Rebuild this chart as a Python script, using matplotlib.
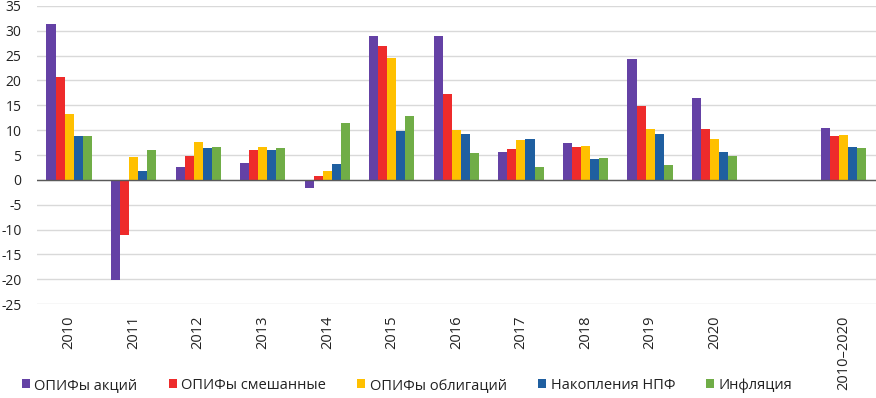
import matplotlib
matplotlib.use("Agg")
import matplotlib.pyplot as plt
import numpy as np
from matplotlib.patches import Patch

categories = ["2010", "2011", "2012", "2013", "2014", "2015", "2016", "2017",
              "2018", "2019", "2020", "", "2010\u20132020"]
series_names = ["ОПИФы акций", "ОПИФы смешанные", "ОПИФы облигаций",
                "Накопления НПФ", "Инфляция"]
opif_stocks = [31.4, -20.2, 2.5, 3.3, -1.6, 29.0, 29.0, 5.6, 7.4, 24.4, 16.5, np.nan, 10.4]
opif_mixed = [20.8, -11.1, 4.8, 6.1, 0.8, 27.0, 17.3, 6.2, 6.6, 14.8, 10.3, np.nan, 8.9]
opif_bonds = [13.3, 4.6, 7.7, 6.7, 1.7, 24.5, 10.0, 8.0, 6.9, 10.2, 8.3, np.nan, 9.1]
npf_savings = [8.9, 1.8, 6.5, 6.0, 3.2, 9.9, 9.2, 8.3, 4.1, 9.3, 5.7, np.nan, 6.6]
inflation = [8.8, 6.1, 6.6, 6.5, 11.4, 12.9, 5.4, 2.5, 4.3, 3.0, 4.9, np.nan, 6.5]
y_ticks = [-25, -20, -15, -10, -5, 0, 5, 10, 15, 20, 25, 30, 35]

colors = ["#6441A5", "#EE2B2B", "#FFC000", "#1F5FA0", "#70AD47"]
series = [opif_stocks, opif_mixed, opif_bonds, npf_savings, inflation]

plt.rcParams['font.family'] = ['Open Sans', 'DejaVu Sans']

fig = plt.figure(figsize=(8.76, 3.98), dpi=100)
ax = fig.add_axes([0.042, 0.236, 0.958, 0.749])

x = np.arange(len(categories))
w = 0.14
for i, (vals, c) in enumerate(zip(series, colors)):
    ax.bar(x + (i - 2) * w, vals, width=w, color=c, zorder=3, linewidth=0)

ax.set_xlim(-0.5, len(categories) - 0.5)
ax.set_ylim(-25, 35)
ax.set_yticks(y_ticks)
ax.set_yticklabels([str(t) for t in y_ticks], fontsize=10, color="#222222")
ax.yaxis.grid(True, color="#D9D9D9", linewidth=1.0, zorder=0)
ax.axhline(0, color="#595959", linewidth=1.0, zorder=4)
ax.set_xticks(x)
ax.set_xticklabels(categories, rotation=90, fontsize=10.5, color="#222222", va="top")
ax.tick_params(axis="both", length=0)
ax.tick_params(axis="y", pad=11)
ax.tick_params(axis="x", pad=8)
for s in ax.spines.values():
    s.set_visible(False)

handles = [Patch(facecolor=c, edgecolor="none") for c in colors]
fig.legend(handles, series_names, loc="center left", bbox_to_anchor=(0.01, 0.032),
           ncol=5, frameon=False, prop={"size": 10.5},
           handlelength=0.55, handleheight=0.55,
           handletextpad=0.3, columnspacing=2.15, labelcolor="#222222")

fig.savefig("out.png", dpi=100)
